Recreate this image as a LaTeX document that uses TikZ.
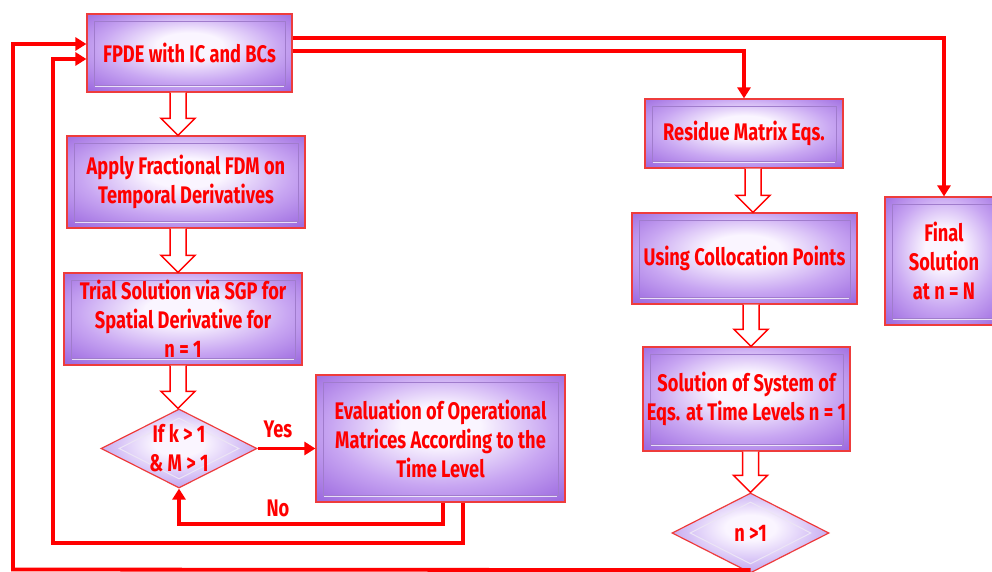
\documentclass[tikz,border=0pt]{standalone}
\usepackage{fontspec}
\usetikzlibrary{shapes.geometric,arrows.meta,calc}
\newfontfamily\condfont[FakeStretch=0.76]{Fira Sans}

% colours of the bevelled boxes
\definecolor{boxp}{RGB}{158,108,224}
\definecolor{boxm}{RGB}{200,166,242}
\definecolor{glowc}{RGB}{250,245,255}
\definecolor{dmdp}{RGB}{182,146,232}
\definecolor{dmdm}{RGB}{214,194,246}
\definecolor{edgered}{RGB}{238,60,60}
\definecolor{bevel}{RGB}{160,124,204}

\pgfdeclareradialshading{glow}{\pgfpoint{0bp}{6bp}}{%
  color(0bp)=(glowc); color(8bp)=(glowc); color(22bp)=(boxm);
  color(35bp)=(boxp); color(50bp)=(boxp)}
\pgfdeclareradialshading{dmdglow}{\pgfpoint{0bp}{4bp}}{%
  color(0bp)=(glowc); color(8bp)=(glowc); color(20bp)=(dmdm);
  color(32bp)=(dmdp); color(50bp)=(dmdp)}

\newcommand\boxtext{\condfont\bfseries\fontsize{24}{29}\selectfont}

% hollow block arrow: x position, start anchor, tip anchor
\newcommand\hollowarrow[3]{%
  \draw[hollow] let \p1=(#2), \p2=(#3) in
    (#1pt-8pt,\y1) -- (#1pt-8pt,\y2+17pt) -- (#1pt-17pt,\y2+17pt) --
    (#1pt,\y2) -- (#1pt+17pt,\y2+17pt) -- (#1pt+8pt,\y2+17pt) -- (#1pt+8pt,\y1);}

\tikzset{
  pbox/.style={rectangle, draw=edgered, line width=1.2pt, shade, shading=glow,
    align=center, text=red, font=\boxtext, inner sep=2pt,
    path picture={
      \draw[bevel, line width=0.9pt]
        ([shift={(7pt,-7pt)}]path picture bounding box.north west) rectangle
        ([shift={(-7pt,7pt)}]path picture bounding box.south east);
      \draw[white, line width=1.2pt, opacity=.75]
        ([shift={(8pt,5.5pt)}]path picture bounding box.south west) --
        ([shift={(-8pt,5.5pt)}]path picture bounding box.south east);
      \draw[black!85, line width=3pt]
        (path picture bounding box.north east) -- (path picture bounding box.south east);
    }},
  pdmd/.style={diamond, aspect=2, draw=edgered, line width=1.2pt, shade, shading=dmdglow,
    align=center, text=red, font=\boxtext, inner sep=0pt,
    path picture={
      \draw[white!80!bevel, line width=1pt]
        ([yshift=-9pt]path picture bounding box.north) --
        ([xshift=-18pt]path picture bounding box.east) --
        ([yshift=9pt]path picture bounding box.south) --
        ([xshift=18pt]path picture bounding box.west) -- cycle;
    }},
  flow/.style={red, line width=3.8pt, line join=miter,
    -{Triangle[length=11pt,width=13pt]}},
  hollow/.style={draw=red, fill=white, line width=1.5pt, line join=miter},
  lbl/.style={text=red, font=\boxtext, inner sep=0pt},
}

\begin{document}
\begin{tikzpicture}[x=1pt,y=1pt]
\useasboundingbox[fill=white] (0,0) rectangle (992,-571);

% left column
\node[pbox, minimum width=205pt, minimum height=78pt] (fpde) at (189.5,-53) {FPDE with IC and BCs};
\node[pbox, minimum width=238pt, minimum height=92pt] (apply) at (186,-182)
  {Apply Fractional FDM on\\Temporal Derivatives};
\node[pbox, minimum width=238pt, minimum height=92pt] (trial) at (183,-319)
  {Trial Solution via SGP for\\Spatial Derivative for\\n = 1};
\node[pdmd, minimum width=156pt, minimum height=79pt] (cond) at (179,-448.5)
  {If k > 1\\\& M > 1};
\node[pbox, minimum width=249pt, minimum height=127pt] (eval) at (440.5,-438.5)
  {Evaluation of Operational\\Matrices According to the\\Time Level};

% right column
\node[pbox, minimum width=198pt, minimum height=69pt] (resid) at (744,-133.5) {Residue Matrix Eqs.};
\node[pbox, minimum width=225pt, minimum height=91pt] (colloc) at (744.5,-258.5) {Using Collocation Points};
\node[pbox, minimum width=207pt, minimum height=104pt] (sol) at (746.5,-399)
  {Solution of System of\\Eqs. at Time Levels n = 1};
\node[pdmd, minimum width=157pt, minimum height=80pt] (ngt) at (750.5,-533) {n >1};
\node[pbox, minimum width=118pt, minimum height=128pt] (final) at (944,-261)
  {Final\\Solution\\at n = N};

% hollow block arrows
\hollowarrow{178}{fpde.south}{apply.north}
\hollowarrow{178}{apply.south}{trial.north}
\hollowarrow{178}{trial.south}{cond.north}
\hollowarrow{753}{resid.south}{colloc.north}
\hollowarrow{751}{colloc.south}{sol.north}
\hollowarrow{750.5}{sol.south}{ngt.north}

% decision branches
\draw[flow] (cond.east) -- (eval.west |- cond.east);
\node[lbl] (yes) at (278,-429) {Yes};
\draw[flow] ([xshift=2.5pt]eval.south) -- ++(0,-21) -| (cond.south);
\node[lbl] (no) at (278,-508) {No};

% feedback loops into the equation
\coordinate (loopA) at (53,-543);
\coordinate (loopB) at (13,-569.5);
\draw[flow] ([xshift=22.5pt]eval.south) |- (loopA) |- ([yshift=-6pt]fpde.west);
\draw[flow] ([yshift=3.5pt]ngt.south) -- (loopB) |- ([yshift=9pt]fpde.west);

% top branches to the right column
\draw[flow] ([yshift=15pt]fpde.east) -| (final.north);
\draw[flow] ([yshift=2pt]fpde.east) -| (resid.north);
\end{tikzpicture}
\end{document}
